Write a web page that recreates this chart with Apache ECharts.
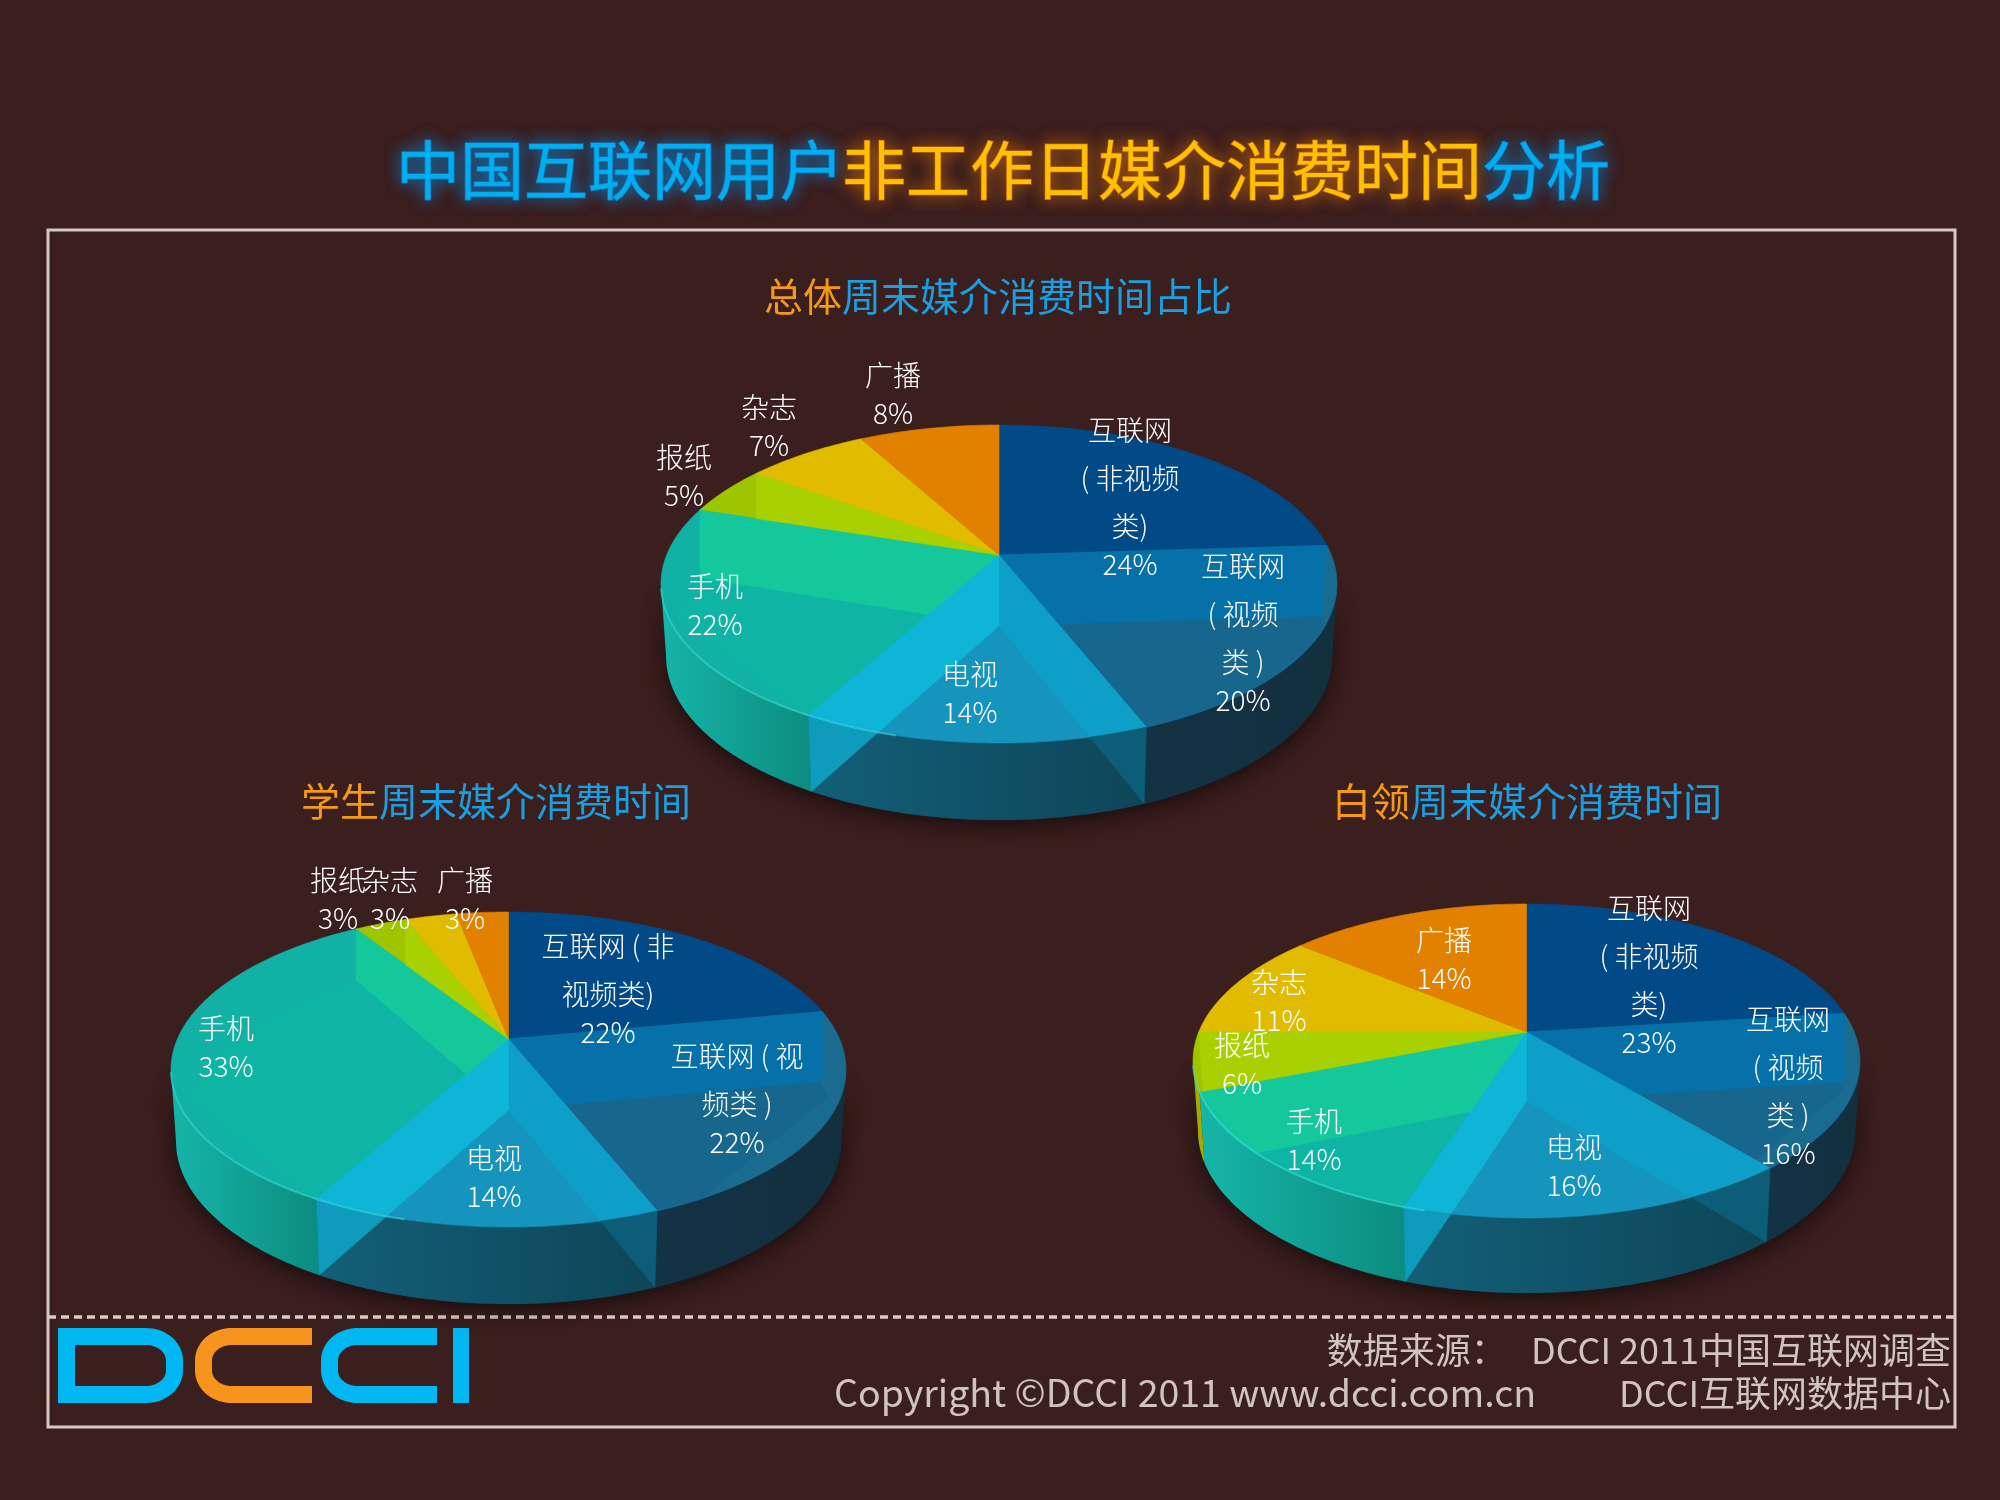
<!DOCTYPE html>
<html><head><meta charset="utf-8">
<style>html,body{margin:0;padding:0;background:#3b1e1e}#c{width:2000px;height:1500px}</style>
<script src="https://cdn.jsdelivr.net/npm/echarts@6/dist/echarts.min.js"></script>
</head><body><div id="c"></div>
<script>
// ---------- data ----------
const totalValues   = [24, 20, 14, 22, 5, 7, 8];
const studentValues = [22, 22, 14, 33, 3, 3, 3];
const whiteValues   = [23, 16, 16, 14, 6, 11, 14];
const totalNames   = ['互联网\n( 非视频\n类)', '互联网\n( 视频\n类 )', '电视', '手机', '报纸', '杂志', '广播'];
const studentNames = ['互联网 ( 非\n视频类)', '互联网 ( 视\n频类 )', '电视', '手机', '报纸', '杂志', '广播'];
const whiteNames   = ['互联网\n( 非视频\n类)', '互联网\n( 视频\n类 )', '电视', '手机', '报纸', '杂志', '广播'];

// ---------- layout & style ----------
const FONT = '"Noto Sans CJK SC","Noto Sans",sans-serif';
const palette = [
  {base:'#024a87', wall:['#12303f','#12303f']},
  {base:'#16668e', edge:'#1a6b90', start:'#0670a9', wall:['#123345','#122f3e']},
  {base:'#1595bd', start:'#0d9fc8', end:'#0eb5d6', wall:['#125f78','#0e4558'], wallStart:'#0c5d78', wallEnd:'#0e9bbc'},
  {base:'#0eb5a5', edge:'#11b1a6', end:'#14c89c', wall:['#15b5a8','#0c8c80']},
  {base:'#9fc400', end:'#a9d000', wall:['#a8a800','#a8a800']},
  {base:'#e0bb00', wall:['#c0a000','#c0a000']},
  {base:'#e28000', wall:['#c07000','#c07000']}
];
const pieTotal = {cx:999, apexY:555, up:130, down:188, rx:338, depth:77,
  labels:[[1130,564],[1243,700],[970,712],[715,624],[684,495],[769,445],[893,413]]};
const pieStudent = {cx:508.5, apexY:1039, up:127, down:188, rx:337.5, depth:77,
  labels:[[608,1032],[737,1142],[494,1196],[226,1066],[338,918],[390,918],[465,918]]};
const pieWhite = {cx:1526.5, apexY:1032, up:128, down:186, rx:333.5, depth:75,
  labels:[[1649,1042],[1788,1153],[1574,1185],[1314,1159],[1242,1083],[1279,1020],[1444,978]]};

function arc(L, a, b) {
  const k = (L.down - L.up) / (L.down + L.up), B = L.up * (1 + k), A = L.rx * Math.sqrt(1 - k * k);
  const n = Math.max(1, Math.ceil(Math.abs(b - a) / (Math.PI / 180))), pts = [];
  for (let i = 0; i <= n; i++) {
    const t = a + (b - a) * i / n, X = Math.sin(t), Y = -Math.cos(t), d = 1 - k * Y;
    pts.push([L.cx + A * X / d, L.apexY + B * Y / d]);
  }
  return pts;
}
function drop(L, p) {
  const dy = p[1] - L.apexY, u = dy / (dy > 0 ? L.down : L.up);
  const f = u > 0 ? 0.92 + 0.08 * u : 0.92 - 0.34 * u * u;
  const sx = u > -0.1 ? 0.985 : 1;
  return [L.cx + (p[0] - L.cx) * sx, p[1] + L.depth * f];
}
function visibleRange(L) {
  const k = (L.down - L.up) / (L.down + L.up), a = Math.acos(-k);
  return [a, 2 * Math.PI - a];
}
function clipConvex(subject, clip) {
  let area = 0;
  clip.forEach((p, i) => { const q = clip[(i + 1) % clip.length]; area += p[0] * q[1] - q[0] * p[1]; });
  const s = area > 0 ? 1 : -1;
  let out = subject;
  for (let i = 0; i < clip.length && out.length; i++) {
    const a = clip[i], b = clip[(i + 1) % clip.length], inp = out; out = [];
    const side = p => s * ((b[0] - a[0]) * (p[1] - a[1]) - (b[1] - a[1]) * (p[0] - a[0]));
    inp.forEach((p, j) => {
      const q = inp[(j + 1) % inp.length], sp = side(p), sq = side(q);
      if (sp >= 0) out.push(p);
      if ((sp >= 0) !== (sq >= 0)) { const u = sp / (sp - sq); out.push([p[0] + (q[0] - p[0]) * u, p[1] + (q[1] - p[1]) * u]); }
    });
  }
  return out;
}
function poly(points, fill, z2, extra) {
  return {type:'polygon', z2, shape:{points}, style:Object.assign({fill, stroke:typeof fill === 'string' ? fill : null, lineWidth:0.6}, extra || {})};
}
function pieSeries(values, names, L) {
  const sum = values.reduce((a, b) => a + b, 0);
  const angle = v => echarts.number.linearMap(v, [0, sum], [0, 2 * Math.PI]);
  const [tA, tB] = visibleRange(L);
  return {
    type:'custom', coordinateSystem:'none', silent:true, animation:false,
    data: values.map((v, i) => ({value:v, name:names[i]})),
    renderItem(params, api) {
      const i = params.dataIndex, c = palette[i], children = [];
      let acc = 0; for (let j = 0; j < i; j++) acc += values[j];
      const value = api.value(0), t1 = angle(acc), t2 = angle(acc + value);
      const apex = [L.cx, L.apexY], apexLow = [L.cx, L.apexY + L.depth * 0.92];
      if (i === 0) {
        const front = arc(L, tA, tB);
        children.push(poly(front.concat(front.map(p => drop(L, p)).reverse()), '#12303f', 1,
          {shadowBlur:20, shadowColor:'rgba(0,0,0,0.55)', shadowOffsetY:5}));
      }
      const rim = arc(L, t1, t2);
      const top = [apex].concat(rim);
      let wall = null;
      const wa = Math.max(t1, tA), wb = Math.min(t2, tB);
      if (wb > wa) {
        const w = arc(L, wa, wb);
        wall = w.concat(w.map(p => drop(L, p)).reverse());
        children.push(poly(wall, new echarts.graphic.LinearGradient(0, 0, 1, 0,
          [{offset:0, color:c.wall[0]}, {offset:1, color:c.wall[1]}]), 2, {stroke:null, lineWidth:0}));
      }
      children.push(poly(top, c.edge || c.base, 3));
      const addBand = (subject, q, fill, z2) => {
        if (!fill) return;
        const cl = clipConvex(subject, q);
        if (cl.length > 2) children.push(poly(cl, fill, z2 || 4));
      };
      const quad = p => [apex, p, drop(L, p), apexLow];
      const startQ = quad(rim[0]), endQ = quad(rim[rim.length - 1]);
      if (c.edge) addBand(top, [apexLow].concat(rim.map(p => drop(L, p))), c.base, 3);
      addBand(top, startQ, c.start);
      addBand(top, endQ, c.end);
      if (wall) { addBand(wall, startQ, c.wallStart); addBand(wall, endQ, c.wallEnd); }
      const ra = Math.max(t1, 3.4), rb = Math.min(t2, 4.5);
      if (rb > ra) {
        children.push({type:'polyline', z2:5, shape:{points:arc(L, ra, rb)},
          style:{stroke:'rgba(70,235,235,0.45)', lineWidth:2, fill:null}});
      }
      const [lx, ly] = L.labels[i];
      children.push({type:'text', z2:20, style:{text:names[i], x:lx, y:ly - 38 + 24, fill:'#ffffff',
        font:'300 28px ' + FONT, lineHeight:48, align:'center', verticalAlign:'bottom'}});
      children.push({type:'text', z2:20, style:{text:value + '%', x:lx, y:ly, fill:'#ffffff',
        font:'300 28px ' + FONT, align:'center', verticalAlign:'middle'}});
      return {type:'group', children};
    }
  };
}

// ---------- texts ----------
const BLUE = '#00aeef', GOLD = '#ffc000', SUB_ORANGE = '#f59a12', SUB_BLUE = '#1a9fe0', FOOT = '#cfc4c0';
function glow(text, x, fill, shadow) {
  return {type:'text', x, y:170, style:{text, fill, font:'400 64px ' + FONT, align:'left', verticalAlign:'middle',
    textShadowBlur:16, textShadowColor:shadow, stroke:shadow, lineWidth:1.5}};
}
function sub(parts, x, y) {
  return parts.map(([text, fill, off]) => ({type:'text', x:x + off, y, style:{text, fill, font:'400 39px ' + FONT, align:'left', verticalAlign:'middle'}}));
}
function foot(text, x, y, align, size) {
  return {type:'text', x, y, style:{text, fill:FOOT, font:'400 ' + (size || 36) + 'px ' + FONT, align, verticalAlign:'middle'}};
}
function roundPath(list) {
  const out = [];
  list.forEach(p => {
    if (p.length === 2) { out.push(p); return; }
    const [cx, cy, rx, ry, a0, a1] = p;
    for (let i = 0; i <= 16; i++) { const a = a0 + (a1 - a0) * i / 16; out.push([cx + rx * Math.cos(a), cy + ry * Math.sin(a)]); }
  });
  return out;
}
const H = Math.PI / 2;
const LOGO_BLUE = '#00b7f1', LOGO_ORANGE = '#f7941d';
function logoC(xLeft, xRight, color) {
  const t = 1336.5, b = 1394.5, r = 28, l = xLeft + 8.5;
  return {type:'polyline', shape:{points:roundPath([[xRight, t], [l + r, t + 24, r, 24, -H, -2 * H], [l + r, b - 24, r, 24, 2 * H, H], [xRight, b]])},
    style:{stroke:color, lineWidth:17, fill:null, lineCap:'butt', lineJoin:'round'}};
}
const graphics = [
  {type:'rect', shape:{x:48, y:230, width:1907, height:1197}, style:{fill:null, stroke:'#d5c9c5', lineWidth:3}},
  {type:'line', shape:{x1:48, y1:1317, x2:1955, y2:1317}, style:{stroke:'#d8ccc8', lineWidth:3.5, lineDash:[8, 5]}},
  glow('中国互联网用户', 396, BLUE, '#0e78c0'),
  glow('非工作日媒介消费时间', 842, GOLD, '#b5600e'),
  glow('分析', 1482, BLUE, '#0e78c0'),
  ...sub([['总体', SUB_ORANGE, 0], ['周末媒介消费时间占比', SUB_BLUE, 78]], 764, 296),
  ...sub([['学生', SUB_ORANGE, 0], ['周末媒介消费时间', SUB_BLUE, 78]], 301, 801),
  ...sub([['白领', SUB_ORANGE, 0], ['周末媒介消费时间', SUB_BLUE, 78]], 1332, 801),
  foot('数据来源：   DCCI 2011中国互联网调查', 1951, 1350, 'right'),
  foot('Copyright ©DCCI 2011 www.dcci.com.cn', 834, 1393, 'left', 37.5),
  foot('DCCI互联网数据中心', 1951, 1393, 'right'),
  {type:'polygon', shape:{points:roundPath([[66.5, 1336.5], [146, 1360.5, 28.5, 24, -H, 0], [146, 1370.5, 28.5, 24, 0, H], [66.5, 1394.5]])},
    style:{stroke:LOGO_BLUE, lineWidth:17, fill:null, lineJoin:'miter'}},
  logoC(195, 312, LOGO_ORANGE),
  logoC(321, 437, LOGO_BLUE),
  {type:'rect', shape:{x:453, y:1328, width:16, height:75}, style:{fill:LOGO_BLUE}}
];

const chart = echarts.init(document.getElementById('c'), null, {renderer:'canvas'});
chart.setOption({
  backgroundColor:'#3b1e1e',
  animation:false,
  graphic:{elements:graphics},
  series:[pieSeries(totalValues, totalNames, pieTotal),
          pieSeries(studentValues, studentNames, pieStudent),
          pieSeries(whiteValues, whiteNames, pieWhite)]
});
</script></body></html>
